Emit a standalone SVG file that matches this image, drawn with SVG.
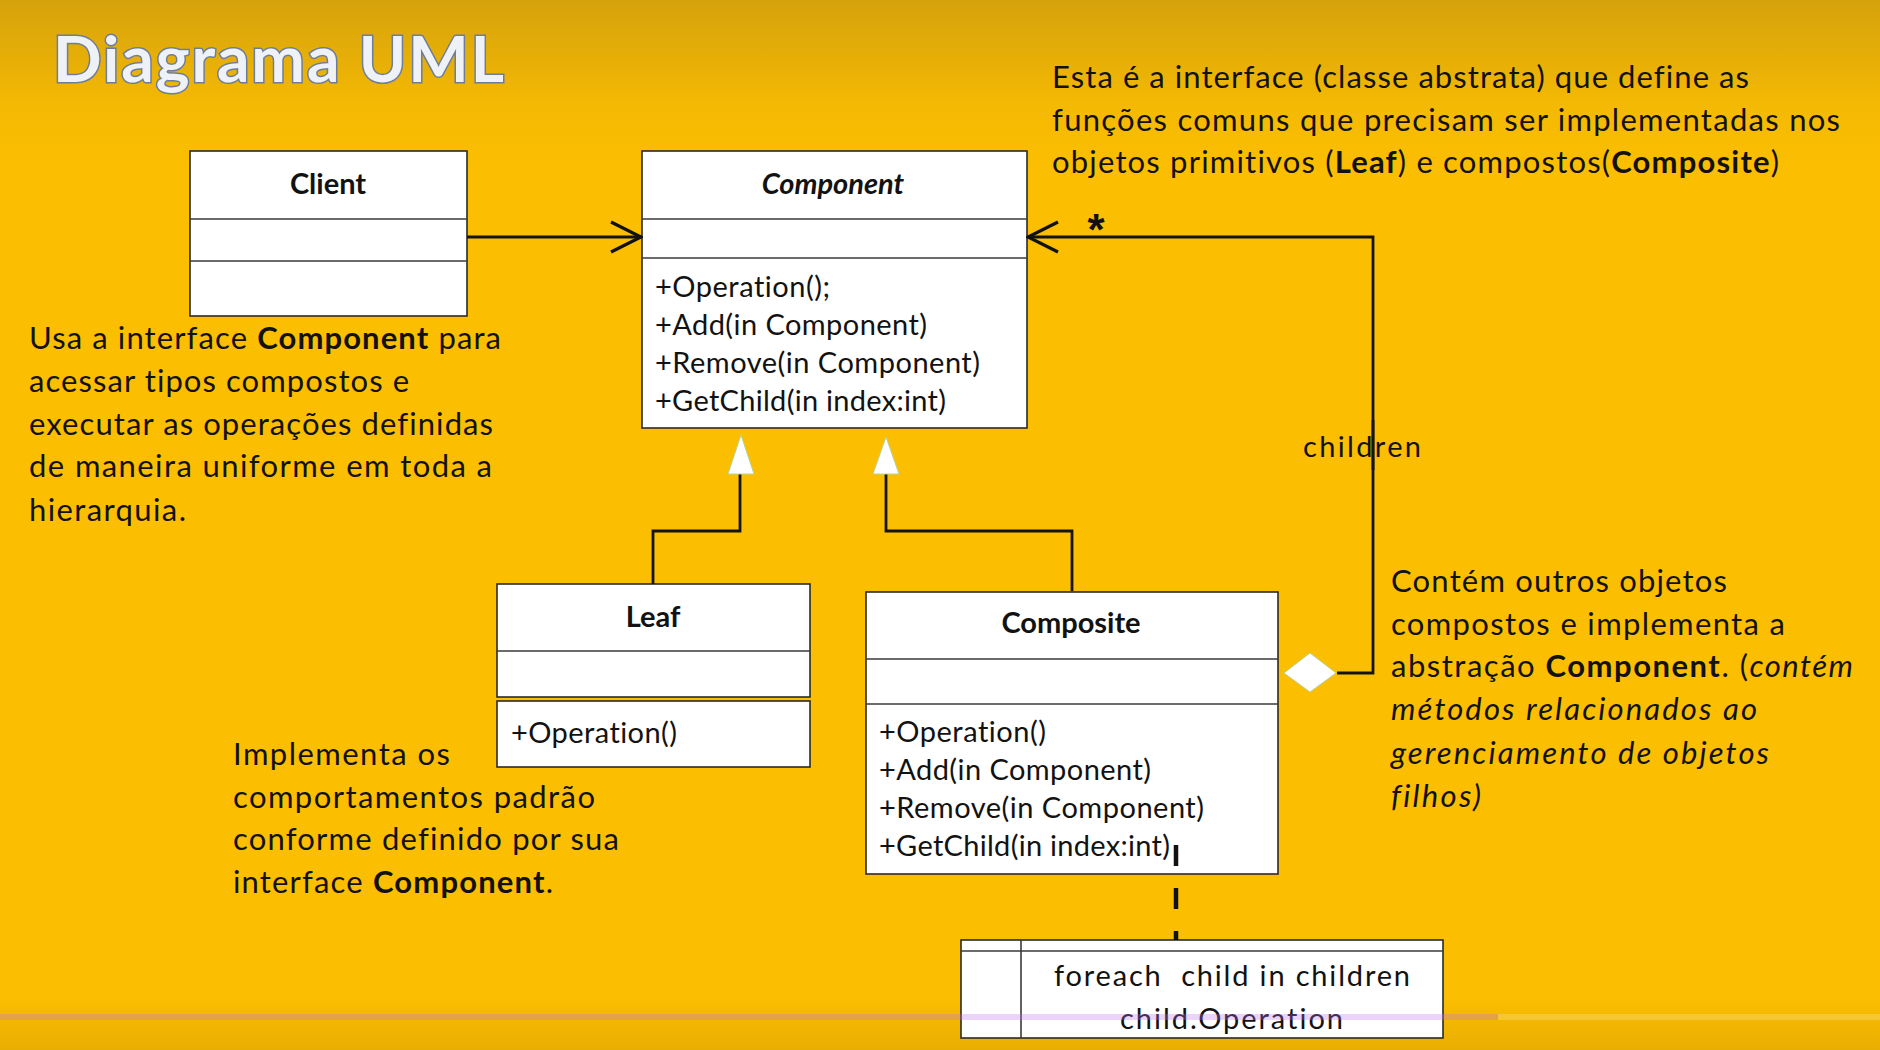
<svg xmlns="http://www.w3.org/2000/svg" width="1880" height="1050" viewBox="0 0 1880 1050">
  <defs>
    <linearGradient id="bg" x1="0" y1="0" x2="0" y2="1">
      <stop offset="0" stop-color="#D5A20C"/>
      <stop offset="0.1" stop-color="#F4B903"/>
      <stop offset="0.16" stop-color="#FBBE00"/>
      <stop offset="0.95" stop-color="#FBBE00"/>
      <stop offset="1" stop-color="#E9AE02"/>
    </linearGradient>
    <marker id="open" viewBox="0 0 34 36" refX="32" refY="18" markerWidth="34" markerHeight="36" markerUnits="userSpaceOnUse" orient="auto">
      <path d="M2,3 L32,18 L2,33" fill="none" stroke="#111" stroke-width="3.2"/>
    </marker>
    <style>
      .box { fill: #ffffff; stroke: #2a2a2a; stroke-width: 1.6; }
      .sep { stroke: #3a3a3a; stroke-width: 1.6; }
      .conn { fill: none; stroke: #141414; stroke-width: 2.8; }
      .t { font-family: Lato, "Open Sans", "DejaVu Sans", sans-serif; font-size: 29px; fill: #121212; font-variant-ligatures: none; }
      .n { font-size: 31px; }
      .b { font-weight: bold; }
      .i { font-style: italic; }
      .mid { text-anchor: middle; }
      .head { fill: #ffffff; stroke: #b7d39a; stroke-width: 1; }
    </style>
  </defs>

  <!-- background -->
  <rect x="0" y="0" width="1880" height="1050" fill="url(#bg)"/>

  <!-- title -->
  <text x="53" y="82" textLength="451" font-family="Lato, 'Open Sans', sans-serif" font-size="64" font-weight="bold" fill="#EEF1F6" stroke="#6E7D98" stroke-width="3" paint-order="stroke">Diagrama UML</text>

  <!-- Client -->
  <g id="client">
    <rect class="box" x="190" y="151" width="277" height="165"/>
    <line class="sep" x1="190" y1="219" x2="467" y2="219"/>
    <line class="sep" x1="190" y1="261" x2="467" y2="261"/>
    <text class="t b mid" x="328" y="194">Client</text>
  </g>

  <!-- Component -->
  <g id="component">
    <rect class="box" x="642" y="151" width="385" height="277"/>
    <line class="sep" x1="642" y1="219" x2="1027" y2="219"/>
    <line class="sep" x1="642" y1="258" x2="1027" y2="258"/>
    <text class="t b i mid" x="833" y="194">Component</text>
    <text class="t" x="655" y="297" textLength="175">+Operation();</text>
    <text class="t" x="655" y="335" textLength="272">+Add(in Component)</text>
    <text class="t" x="655" y="373" textLength="325">+Remove(in Component)</text>
    <text class="t" x="655" y="411" textLength="291">+GetChild(in index:int)</text>
  </g>

  <!-- Leaf -->
  <g id="leaf">
    <rect class="box" x="497" y="584" width="313" height="113"/>
    <line class="sep" x1="497" y1="651" x2="810" y2="651"/>
    <rect class="box" x="497" y="701" width="313" height="66"/>
    <text class="t b mid" x="653" y="627">Leaf</text>
    <text class="t" x="511" y="743" textLength="166">+Operation()</text>
  </g>

  <!-- Composite -->
  <g id="composite">
    <rect class="box" x="866" y="592" width="412" height="282"/>
    <line class="sep" x1="866" y1="659" x2="1278" y2="659"/>
    <line class="sep" x1="866" y1="704" x2="1278" y2="704"/>
    <text class="t b mid" x="1071" y="633">Composite</text>
    <text class="t" x="879" y="742" textLength="167">+Operation()</text>
    <text class="t" x="879" y="780" textLength="272">+Add(in Component)</text>
    <text class="t" x="879" y="818" textLength="325">+Remove(in Component)</text>
    <text class="t" x="879" y="856" textLength="291">+GetChild(in index:int)</text>
  </g>

  <!-- Operation note -->
  <g id="note">
    <rect class="box" x="961" y="940" width="482" height="98"/>
    <line class="sep" x1="961" y1="951" x2="1443" y2="951"/>
    <line class="sep" x1="1021" y1="940" x2="1021" y2="1038"/>
    <text class="t" x="1054" y="986" textLength="356" xml:space="preserve">foreach  child in children</text>
    <text class="t" x="1120" y="1029" textLength="223">child.Operation</text>
  </g>

  <!-- connectors -->
  <g id="connectors">
    <!-- Client uses Component -->
    <line class="conn" x1="467" y1="237" x2="641" y2="237" marker-end="url(#open)"/>
    <!-- Leaf generalization -->
    <polyline class="conn" points="653,584 653,531 740,531 740,474"/>
    <polygon class="head" points="741,435 728,474 754,474"/>
    <!-- Composite generalization -->
    <polyline class="conn" points="1072,591 1072,531 886,531 886,474"/>
    <polygon class="head" points="886,437 873,474 899,474"/>
    <!-- children aggregation -->
    <polyline class="conn" points="1337,673 1373,673 1373,237 1028,237" marker-end="url(#open)"/>
    <polygon class="head" points="1284,673 1310,653 1336,673 1310,692"/>
    <text x="1096" y="245" font-family="'Liberation Sans', Arial, sans-serif" font-size="44" font-weight="bold" fill="#111" text-anchor="middle">*</text>
    <text class="t" x="1303" y="457" textLength="118">children</text>
    <line x1="1373" y1="420" x2="1373" y2="470" stroke="#141414" stroke-width="2.8"/>
    <!-- note anchor -->
    <line x1="1176" y1="845" x2="1176" y2="940" stroke="#111" stroke-width="4.5" stroke-dasharray="21 22"/>
  </g>

  <!-- Client description -->
  <g id="client-note">
    <text class="t n" x="29" y="349" textLength="472">Usa a interface <tspan class="b">Component</tspan> para</text>
    <text class="t n" x="29" y="392" textLength="380">acessar tipos compostos e</text>
    <text class="t n" x="29" y="435" textLength="464">executar as operações definidas</text>
    <text class="t n" x="29" y="477" textLength="463">de maneira uniforme em toda a</text>
    <text class="t n" x="29" y="521" textLength="157">hierarquia.</text>
  </g>

  <!-- Component description -->
  <g id="component-note">
    <text class="t n" x="1052" y="88" textLength="697">Esta é a interface (classe abstrata) que define as</text>
    <text class="t n" x="1052" y="131" textLength="788">funções comuns que precisam ser implementadas nos</text>
    <text class="t n" x="1052" y="173" textLength="727">objetos primitivos (<tspan class="b">Leaf</tspan>) e compostos(<tspan class="b">Composite</tspan>)</text>
  </g>

  <!-- Composite description -->
  <g id="composite-note">
    <text class="t n" x="1391" y="592" textLength="336">Contém outros objetos</text>
    <text class="t n" x="1391" y="635" textLength="394">compostos e implementa a</text>
    <text class="t n" x="1391" y="677" textLength="462">abstração <tspan class="b">Component</tspan>. (<tspan class="i">contém</tspan></text>
    <text class="t n i" x="1391" y="720" textLength="366">métodos relacionados ao</text>
    <text class="t n i" x="1391" y="764" textLength="378">gerenciamento de objetos</text>
    <text class="t n i" x="1391" y="807" textLength="90">filhos)</text>
  </g>

  <!-- Leaf description -->
  <g id="leaf-note">
    <text class="t n" x="233" y="765" textLength="217">Implementa os</text>
    <text class="t n" x="233" y="808" textLength="362">comportamentos padrão</text>
    <text class="t n" x="233" y="850" textLength="386">conforme definido por sua</text>
    <text class="t n" x="233" y="893" textLength="320">interface <tspan class="b">Component</tspan>.</text>
  </g>

  <!-- playback bar -->
  <rect x="0" y="1014" width="1498" height="6" fill="rgb(190,110,240)" fill-opacity="0.3"/>
  <rect x="1498" y="1014" width="382" height="6" fill="#ffffff" fill-opacity="0.2"/>
</svg>
